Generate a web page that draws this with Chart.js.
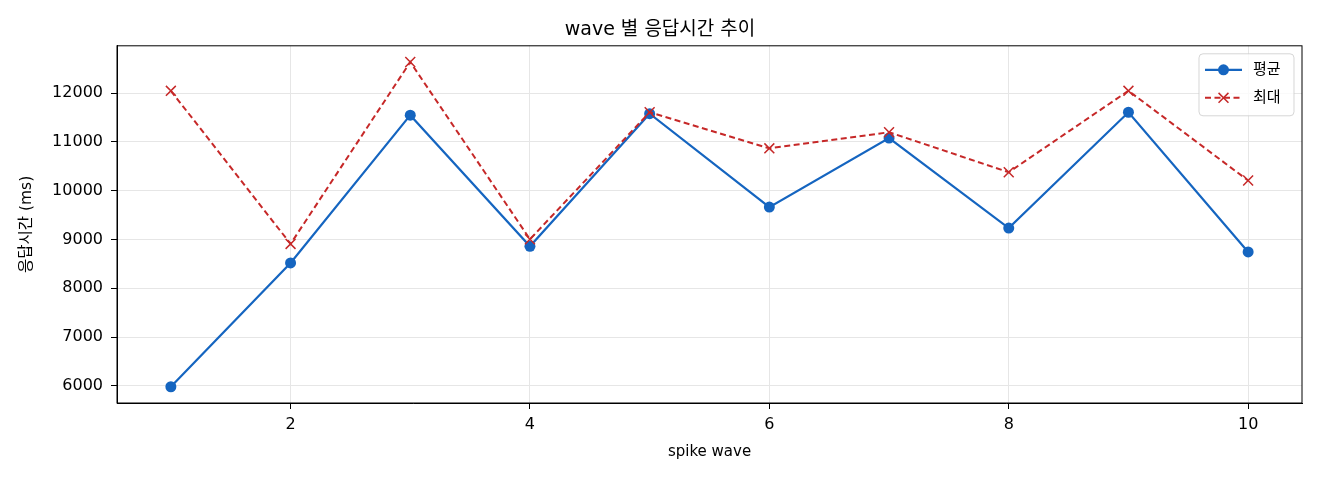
<!DOCTYPE html>
<html>
<head>
<meta charset="utf-8">
<script src="https://cdn.jsdelivr.net/npm/chart.js@4/dist/chart.umd.min.js"></script>
<style>
  html, body { margin: 0; padding: 0; background: #fff; }
  #wrap { position: relative; width: 1320px; height: 480px; }
</style>
</head>
<body>
<div id="wrap"><canvas id="waveChart"></canvas></div>
<script>
const waves = [1, 2, 3, 4, 5, 6, 7, 8, 9, 10];
const avgMs = [5980, 8520, 11550, 8860, 11580, 9665, 11080, 9235, 11610, 8745];
const maxMs = [12050, 8910, 12640, 9005, 11610, 10870, 11200, 10380, 12050, 10210];
const xTicks = [2, 4, 6, 8, 10];
const yTicks = [6000, 7000, 8000, 9000, 10000, 11000, 12000];
const seriesNames = ['평균', '최대'];

const BLUE = '#1565C0', RED = '#C62828';
const FONT = "'DejaVu Sans', 'Noto Sans CJK KR', sans-serif";

// matplotlib style 5% margins
function padRange(vals, m) {
  const lo = Math.min(...vals), hi = Math.max(...vals);
  const d = (hi - lo) * m;
  return [lo - d, hi + d];
}
const [xMin, xMax] = padRange(waves, 0.05);
const [yMin, yMax] = padRange(avgMs.concat(maxMs), 0.05);

const frame = {
  id: 'frame',
  afterDatasetsDraw(chart) {
    const { ctx, chartArea: a } = chart;
    ctx.save();
    ctx.strokeStyle = '#000';
    ctx.lineWidth = 1;
    ctx.strokeRect(a.left, a.top, a.right - a.left, a.bottom - a.top);
    ctx.restore();
  }
};

// legend box in the upper right corner of the plot
const boxLegend = {
  id: 'boxLegend',
  afterDraw(chart) {
    const { ctx, chartArea: a } = chart;
    const w = 95, h = 62;
    const x0 = a.right - 8 - w, y0 = a.top + 8;
    ctx.save();
    ctx.beginPath();
    ctx.roundRect(x0, y0, w, h, 4);
    ctx.fillStyle = 'rgba(255,255,255,0.8)';
    ctx.fill();
    ctx.strokeStyle = 'rgba(204,204,204,0.8)';
    ctx.lineWidth = 1;
    ctx.stroke();
    chart.data.datasets.slice().sort((p, q) => p.legendIdx - q.legendIdx).forEach((ds, i) => {
      const y = y0 + 16 + i * 28;
      const lx0 = x0 + 6, lx1 = x0 + 43, mx = (lx0 + lx1) / 2;
      ctx.strokeStyle = ds.borderColor;
      ctx.lineWidth = ds.borderWidth;
      ctx.setLineDash(ds.borderDash || []);
      ctx.beginPath(); ctx.moveTo(lx0, y); ctx.lineTo(lx1, y); ctx.stroke();
      ctx.setLineDash([]);
      if (ds.pointStyle === 'circle') {
        ctx.fillStyle = ds.pointBackgroundColor;
        ctx.beginPath(); ctx.arc(mx, y, ds.pointRadius, 0, Math.PI * 2); ctx.fill();
      } else {
        const r = ds.pointRadius * 0.707;
        ctx.strokeStyle = ds.pointBorderColor;
        ctx.lineWidth = ds.pointBorderWidth;
        ctx.beginPath();
        ctx.moveTo(mx - r, y - r); ctx.lineTo(mx + r, y + r);
        ctx.moveTo(mx - r, y + r); ctx.lineTo(mx + r, y - r);
        ctx.stroke();
      }
      ctx.fillStyle = '#000';
      ctx.font = '15px ' + FONT;
      ctx.textBaseline = 'middle';
      ctx.fillText(ds.label, x0 + 54, y);
    });
    ctx.restore();
  }
};

const toPts = arr => waves.map((w, i) => ({ x: w, y: arr[i] }));

new Chart(document.getElementById('waveChart'), {
  type: 'line',
  data: {
    datasets: [
      {
        label: seriesNames[1], legendIdx: 1, order: 0,
        data: toPts(maxMs),
        borderColor: RED, borderWidth: 2, borderDash: [6, 3.5],
        pointStyle: 'crossRot', pointRadius: 7, pointBorderWidth: 1.5,
        pointBorderColor: RED, pointBackgroundColor: RED, tension: 0
      },
      {
        label: seriesNames[0], legendIdx: 0, order: 1,
        data: toPts(avgMs),
        borderColor: BLUE, borderWidth: 2.2,
        pointStyle: 'circle', pointRadius: 5.5, pointBorderWidth: 0,
        pointBackgroundColor: BLUE, pointBorderColor: BLUE, tension: 0
      }
    ]
  },
  options: {
    responsive: true,
    maintainAspectRatio: false,
    animation: false,
    layout: { padding: { left: 18, right: 18, top: 0, bottom: 0 } },
    plugins: {
      legend: { display: false },
      tooltip: { enabled: false },
      title: {
        display: true, text: 'wave 별 응답시간 추이', color: '#000',
        font: { family: FONT, size: 19, weight: 'normal' },
        padding: { top: 19, bottom: 4 }
      }
    },
    scales: {
      x: {
        type: 'linear', min: xMin, max: xMax,
        afterBuildTicks: s => { s.ticks = xTicks.map(v => ({ value: v })); },
        afterFit: s => { s.height = 77; },
        grid: { color: '#e6e6e6', tickColor: '#000', tickLength: 6, lineWidth: 1 },
        border: { color: '#000', width: 1 },
        ticks: { color: '#000', padding: 6, font: { family: FONT, size: 16 }, callback: v => String(v) },
        title: {
          display: true, text: 'spike wave', color: '#000',
          font: { family: FONT, size: 15 }, padding: { top: 0, bottom: 19 }
        }
      },
      y: {
        min: yMin, max: yMax,
        afterBuildTicks: s => { s.ticks = yTicks.map(v => ({ value: v })); },
        afterFit: s => { s.width = 99; },
        grid: { color: '#e6e6e6', tickColor: '#000', tickLength: 6, lineWidth: 1 },
        border: { color: '#000', width: 1 },
        ticks: { color: '#000', padding: 8, font: { family: FONT, size: 16 }, callback: v => String(v) },
        title: {
          display: true, text: '응답시간 (ms)', color: '#000',
          font: { family: FONT, size: 15.5 }, padding: { top: 0, bottom: 0 }
        }
      }
    }
  },
  plugins: [frame, boxLegend]
});
</script>
</body>
</html>
